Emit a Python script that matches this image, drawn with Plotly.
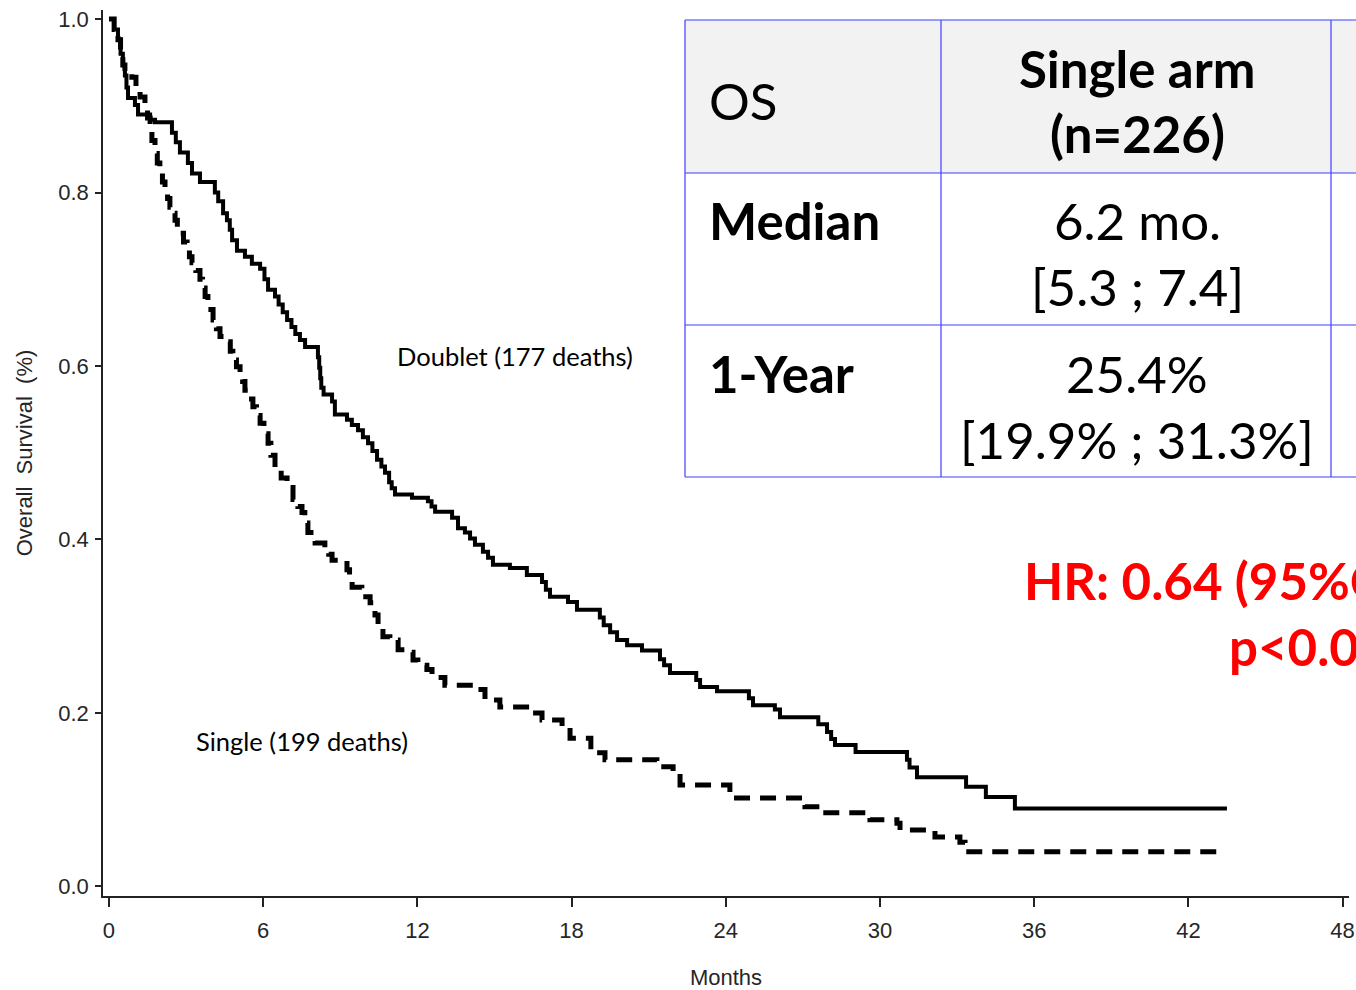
import plotly.graph_objects as go

# Kaplan-Meier step data: month at which survival changes, and the new survival value
doublet_months = [0.00, 0.20, 0.35, 0.45, 0.54, 0.62, 0.68, 0.74, 1.01, 1.13, 1.60, 1.79,
                  2.45, 2.60, 2.76, 3.07, 3.23, 3.54, 4.12, 4.25, 4.44, 4.59, 4.70, 4.79,
                  4.98, 5.29, 5.56, 5.88, 6.05, 6.19, 6.46, 6.60, 6.76, 6.93, 7.10, 7.25,
                  7.43, 7.63, 8.13, 8.18, 8.22, 8.26, 8.35, 8.68, 8.79, 9.26, 9.45, 9.69,
                  9.88, 10.08, 10.25, 10.43, 10.60, 10.74, 10.90, 11.00, 11.13, 11.79, 12.41,
                  12.55, 12.69, 13.35, 13.58, 13.85, 14.05, 14.24, 14.55, 14.75, 14.94, 15.60,
                  16.26, 16.85, 17.00, 17.16, 17.86, 18.21, 19.10, 19.25, 19.50, 19.77, 20.16,
                  20.74, 21.44, 21.60, 21.83, 22.85, 23.00, 23.66, 24.90, 25.06, 25.91, 26.11,
                  27.60, 27.94, 28.10, 28.25, 29.05, 31.05, 31.15, 31.44, 33.35, 34.12, 35.25,
                  43.50]
doublet_surv = [1.000, 0.988, 0.976, 0.960, 0.947, 0.935, 0.921, 0.909, 0.901, 0.890, 0.884, 0.881,
                0.869, 0.858, 0.846, 0.834, 0.822, 0.812, 0.800, 0.790, 0.776, 0.768, 0.757, 0.745,
                0.733, 0.726, 0.718, 0.712, 0.700, 0.688, 0.680, 0.671, 0.662, 0.653, 0.645, 0.637,
                0.630, 0.622, 0.610, 0.598, 0.586, 0.575, 0.567, 0.559, 0.544, 0.538, 0.532, 0.526,
                0.518, 0.511, 0.502, 0.492, 0.484, 0.477, 0.466, 0.459, 0.452, 0.448, 0.444,
                0.438, 0.432, 0.425, 0.413, 0.408, 0.401, 0.394, 0.386, 0.379, 0.371, 0.367,
                0.359, 0.351, 0.342, 0.334, 0.328, 0.319, 0.310, 0.301, 0.293, 0.284, 0.278,
                0.272, 0.262, 0.255, 0.246, 0.238, 0.230, 0.225, 0.217, 0.209, 0.204, 0.195,
                0.187, 0.178, 0.170, 0.163, 0.155, 0.146, 0.137, 0.126, 0.115, 0.103, 0.090,
                0.090]

single_months = [0.00, 0.20, 0.35, 0.45, 0.54, 0.62, 0.89, 1.05, 1.21, 1.40, 1.50, 1.60, 1.67,
                 1.79, 1.88, 1.98, 2.08, 2.18, 2.28, 2.37, 2.47, 2.57, 2.66, 2.76, 2.90, 3.04,
                 3.13, 3.23, 3.38, 3.54, 3.64, 3.74, 3.85, 4.05, 4.18, 4.32, 4.63, 4.72, 4.82,
                 4.96, 5.10, 5.20, 5.29, 5.45, 5.60, 5.74, 5.88, 6.03, 6.19, 6.30, 6.46, 6.70,
                 6.93, 7.16, 7.35, 7.51, 7.62, 7.74, 8.02, 8.40, 8.55, 8.68, 9.26, 9.36, 9.46,
                 9.84, 10.16, 10.35, 10.47, 10.66, 10.93, 11.25, 11.52, 11.83, 12.02, 12.37,
                 12.57, 13.07, 14.36, 14.63, 15.21, 16.60, 16.85, 17.63, 17.94, 18.75, 19.30,
                 21.32, 21.95, 22.22, 24.16, 27.08, 27.67, 29.61, 30.66, 30.78, 32.14, 33.11,
                 33.31, 43.10]
single_surv = [1.000, 0.988, 0.976, 0.960, 0.947, 0.939, 0.933, 0.921, 0.910, 0.895, 0.886, 0.876, 0.860,
               0.845, 0.834, 0.822, 0.812, 0.803, 0.793, 0.783, 0.776, 0.768, 0.760, 0.753, 0.743, 0.734,
               0.726, 0.719, 0.710, 0.700, 0.690, 0.680, 0.665, 0.653, 0.643, 0.634, 0.628, 0.617, 0.607,
               0.599, 0.592, 0.582, 0.572, 0.562, 0.553, 0.543, 0.534, 0.522, 0.511, 0.497, 0.483, 0.471,
               0.460, 0.446, 0.438, 0.431, 0.419, 0.408, 0.396, 0.390, 0.383, 0.376, 0.365, 0.355, 0.345,
               0.334, 0.327, 0.313, 0.299, 0.288, 0.284, 0.273, 0.270, 0.261, 0.255, 0.250,
               0.241, 0.232, 0.227, 0.215, 0.207, 0.200, 0.192, 0.184, 0.171, 0.154, 0.146,
               0.138, 0.131, 0.117, 0.102, 0.092, 0.085, 0.077, 0.073, 0.065, 0.057, 0.051,
               0.040, 0.040]

x_ticks = [0, 6, 12, 18, 24, 30, 36, 42, 48]
y_ticks = [0.0, 0.2, 0.4, 0.6, 0.8, 1.0]

# Summary table for the single arm
table_header = ["OS", "Single arm", "(n=226)"]
row_labels = ["Median", "1-Year"]
row_values = [["6.2 mo.", "[5.3 ; 7.4]"], ["25.4%", "[19.9% ; 31.3%]"]]
hr_lines = ["HR: 0.64 (95%CI", "p<0.00"]

W, H = 1356, 990
ML, MR, MT, MB = 103, 7, 10, 94


def px(xp):
    return (xp - ML) / (W - ML - MR)


def py(yp):
    return (H - MB - yp) / (H - MT - MB)


AX_FONT = dict(family="Liberation Sans, Arial, sans-serif", size=22, color="#262626")
TXT = "Lato, Calibri, sans-serif"

fig = go.Figure()
fig.add_trace(go.Scatter(
    x=doublet_months, y=doublet_surv, mode="lines", name="Doublet",
    line=dict(shape="hv", color="black", width=4),
))
fig.add_trace(go.Scatter(
    x=single_months, y=single_surv, mode="lines", name="Single",
    line=dict(shape="hv", color="black", width=5, dash="16px,10px"),
))

shapes = []
border = dict(color="#3f3fff", width=1.2)
# table background
shapes.append(dict(type="rect", xref="paper", yref="paper", x0=px(685), x1=px(1420),
                   y0=py(173), y1=py(20), fillcolor="#f2f2f2", line=dict(width=0), layer="above"))
shapes.append(dict(type="rect", xref="paper", yref="paper", x0=px(685), x1=px(1420),
                   y0=py(477), y1=py(173), fillcolor="white", line=dict(width=0), layer="above"))
for yy in [20, 173, 325, 477]:
    shapes.append(dict(type="line", xref="paper", yref="paper", x0=px(685), x1=px(1420),
                       y0=py(yy), y1=py(yy), line=border, layer="above"))
for xx in [685, 941, 1331]:
    shapes.append(dict(type="line", xref="paper", yref="paper", x0=px(xx), x1=px(xx),
                       y0=py(20), y1=py(477), line=border, layer="above"))

ann = []


def add_text(text, xp, yp, size, bold=False, anchor="left", color="black"):
    ann.append(dict(
        text=f"<b>{text}</b>" if bold else text, xref="paper", yref="paper",
        x=px(xp), y=py(yp), xanchor=anchor, yanchor="middle", showarrow=False,
        font=dict(family=TXT, size=size, color=color),
    ))


TS = 51
add_text(table_header[0], 707, 100, TS)
add_text(table_header[1], 1137, 68, TS, bold=True, anchor="center")
add_text(table_header[2], 1137, 133, TS, bold=True, anchor="center")
for i, (lab, vals) in enumerate(zip(row_labels, row_values)):
    y0 = 220 + i * 153
    add_text(lab, 707, y0, TS, bold=True)
    add_text(vals[0], 1137, y0, TS, anchor="center")
    add_text(vals[1], 1137, y0 + 66, TS, anchor="center")

add_text(hr_lines[0], 1022, 580, TS, bold=True, color="#ff0000")
add_text(hr_lines[1], 1227, 646, TS, bold=True, color="#ff0000")

# curve labels
ann.append(dict(text="Doublet (177 deaths)", x=11.13, y=0.6115, xref="x", yref="y",
                xanchor="left", yanchor="middle", showarrow=False,
                font=dict(family=TXT, size=25.5, color="black")))
ann.append(dict(text="Single (199 deaths)", x=3.31, y=0.1677, xref="x", yref="y",
                xanchor="left", yanchor="middle", showarrow=False,
                font=dict(family=TXT, size=25.5, color="black")))

fig.update_layout(
    width=W, height=H,
    margin=dict(l=ML, r=MR, t=MT, b=MB),
    paper_bgcolor="white", plot_bgcolor="white",
    showlegend=False,
    shapes=shapes, annotations=ann,
    xaxis=dict(
        range=[-0.233, 48.25], tickvals=x_ticks, ticktext=[str(v) for v in x_ticks],
        ticks="outside", ticklen=9, tickwidth=1.5, tickcolor="#222",
        showline=True, linewidth=1.5, linecolor="#222", automargin=False,
        showgrid=False, zeroline=False, tickfont=AX_FONT, ticklabelstandoff=5,
        title=dict(text="Months", font=AX_FONT, standoff=28),
    ),
    yaxis=dict(
        range=[-0.011, 1.0104], tickvals=y_ticks, ticktext=[f"{v:.1f}" for v in y_ticks],
        ticks="outside", ticklen=6, tickwidth=1.5, tickcolor="#222",
        showline=True, linewidth=1.5, linecolor="#222", automargin=False,
        showgrid=False, zeroline=False, tickfont=AX_FONT, ticklabelstandoff=2,
        title=dict(text="Overall\u00a0 Survival\u00a0 (%)", font=AX_FONT, standoff=20),
    ),
)

fig.write_html("out.html")
